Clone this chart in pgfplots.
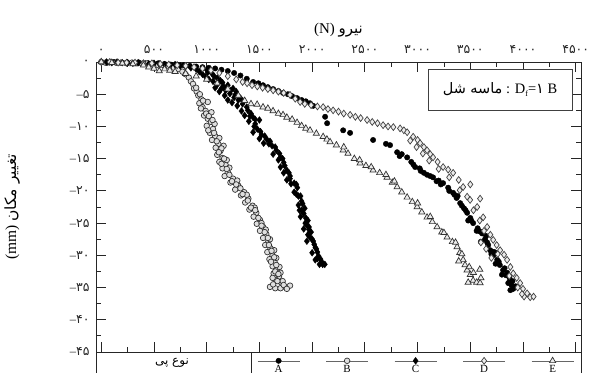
\documentclass[border=0pt]{standalone}
\usepackage{fontspec}
\setmainfont{Liberation Serif}
\newfontfamily\arabicfont[Script=Arabic]{DejaVu Sans}
\TeXXeTstate=1
\usepackage{pgfplots}
\pgfplotsset{compat=1.18}
\pgfplotsset{
  legL/.style={legend image code/.code={
      \draw[black!60,line width=0.5bp] (-21bp,0bp) -- (21bp,0bp);
      \draw[##1] plot coordinates {(0bp,0bp)};
      \node[font=\fontsize{11}{12}\selectfont,inner sep=0pt,anchor=north] at (0bp,-4bp) {#1};
  }},
}
\newcommand{\mn}{{\rmfamily –}}
\begin{document}
\begin{tikzpicture}
\begin{axis}[
  name=ax,
  scale only axis, width=485bp, height=290bp,
  xmin=-50, xmax=4550, ymin=-45, ymax=0,
  xtick={0,500,1000,1500,2000,2500,3000,3500,4000,4500},
  xticklabels={۰,۵۰۰,۱۰۰۰,۱۵۰۰,۲۰۰۰,۲۵۰۰,۳۰۰۰,۳۵۰۰,۴۰۰۰,۴۵۰۰},
  xticklabel pos=upper,
  ytick={-45,-40,-35,-30,-25,-20,-15,-10,-5,0},
  yticklabels={\mn۴۵,\mn۴۰,\mn۳۵,\mn۳۰,\mn۲۵,\mn۲۰,\mn۱۵,\mn۱۰,\mn۵,۰},
  minor x tick num=1, minor y tick num=1,
  tick align=inside,
  major tick length=10bp, minor tick length=5bp,
  axis line style={black!85,line width=1bp},
  every tick/.style={black!85,line width=0.8bp},
  ticklabel style={font=\arabicfont\fontsize{12.5}{14}\selectfont,text=black!85},
  xticklabel style={yshift=5bp},
  yticklabel style={xshift=-3bp},
  xlabel={(N) {\arabicfont\beginR نیرو\endR}},
  xlabel style={font=\fontsize{15}{17}\selectfont,yshift=1bp},
  ylabel={(mm) {\arabicfont\beginR تغییر مکان\endR}},
  ylabel style={font=\fontsize{15.5}{17}\selectfont,at={(axis description cs:-0.173,0.5)},anchor=center},
  legend style={draw=none,fill=none,inner sep=0pt,at={(0.66,0)},anchor=north,yshift=-5bp,
    legend columns=5,column sep=0pt,nodes={inner sep=0pt},
    /tikz/every even column/.append style={column sep=25bp}},
]
% A: filled circles
\addplot[only marks,mark=*,mark size=2.7bp,mark options={fill=black,draw=black},legL=A] coordinates {
(0,0)(60,-0.1)(120,0)(180,-0.1)(240,-0.1)(300,-0.2)(360,-0.1)(420,-0.2)(480,-0.3)(540,-0.2)
(600,-0.3)(660,-0.4)(720,-0.4)(780,-0.5)(840,-0.6)(900,-0.7)(960,-0.8)(1020,-0.9)(1080,-1.0)
(1140,-1.2)(1200,-1.4)(1260,-1.7)(1320,-2.1)(1380,-2.6)(1440,-3.1)(1490,-3.3)(1534,-3.6)
(1580,-3.9)(1630,-4.2)(1680,-4.5)(1724,-4.8)(1770,-5.0)(1810,-5.3)(1857,-5.6)(1900,-5.9)
(1940,-6.1)(1980,-6.4)(2010,-6.8)
(2123,-8.5)(2142,-9.5)(2294,-10.6)(2360,-11.0)(2578,-12.1)(2700,-12.7)(2739,-12.9)
(2806,-14.0)(2850,-14.3)(2901,-14.8)(2940,-15.5)(2977,-16.3)(3030,-16.9)(3090,-17.5)(3147,-17.9)
(3200,-18.4)(3242,-18.8)(3290,-19.5)(3337,-20.3)(3370,-21.1)(3404,-21.9)(3440,-22.7)(3470,-23.4)
(3500,-24.2)(3527,-25.0)(3570,-25.8)(3612,-26.6)(3640,-27.5)(3670,-28.4)(3688,-29.2)(3720,-30.0)
(3755,-30.7)(3780,-31.5)(3811,-32.3)(3840,-33.1)(3878,-33.9)(3890,-34.6)(3907,-35.2)
(3560,-26.2)(3650,-27.0)(3700,-29.8)(3740,-31.3)(3800,-33.0)(3860,-34.3)(3380,-20.8)(3300,-20.0)
(3480,-24.6)(3600,-27.9)(3730,-29.5)(3850,-32.7)(3930,-34.8)(3880,-35.4)(3020,-16.5)(3120,-17.7)(3180,-18.5)
(2830,-14.6)(2960,-15.9)(3060,-17.2)(3220,-19.0)(3350,-20.6)(3420,-22.3)(3455,-23.0)(3510,-24.6)
(3590,-26.3)(3660,-28.0)(3705,-29.4)(3770,-31.0)(3825,-32.0)(3870,-33.4)(3900,-34.0)
};
\addlegendentry{\mbox{}}
% B: open circles
\addplot[only marks,mark=*,mark size=2.8bp,mark options={fill=gray!25,draw=black!80,line width=0.7bp},legL=B] coordinates {
(0,0)(40,-0.1)(90,0)(140,-0.1)(190,-0.1)(240,-0.2)(290,-0.1)(340,-0.2)(390,-0.3)(440,-0.2)
(490,-0.4)(540,-0.5)(590,-0.5)(640,-0.7)(690,-0.9)(730,-1.1)(770,-1.5)(800,-1.9)(830,-2.4)
(850,-3.0)(870,-3.4)(880,-4.1)(905,-4.6)(920,-5.2)(950,-5.8)(930,-6.4)(960,-7.0)(990,-7.6)
(975,-8.3)(1010,-8.8)(1040,-9.3)(1000,-9.9)(1060,-10.4)(1030,-11.0)(1080,-11.5)(1050,-12.1)
(1110,-12.7)(1085,-13.3)(1130,-13.8)(1100,-14.4)(1150,-14.9)(1120,-15.5)(1180,-16.0)(1150,-16.5)
(1200,-17.1)(1170,-17.7)(1250,-18.1)(1225,-18.7)(1300,-19.2)(1270,-19.8)(1355,-20.2)(1325,-20.7)
(1395,-21.2)(1365,-21.8)(1435,-22.3)(1405,-22.9)(1470,-23.4)(1445,-24.0)(1505,-24.5)(1475,-25.1)
(1535,-25.6)(1505,-26.2)(1565,-26.7)(1535,-27.3)(1585,-27.8)(1555,-28.4)(1605,-28.9)(1575,-29.5)
(1625,-30.0)(1595,-30.6)(1645,-31.1)(1625,-31.7)(1665,-32.2)(1635,-32.8)(1685,-33.3)(1655,-33.8)
(1705,-34.2)(1600,-34.9)(1650,-35.1)(1700,-35.1)(1750,-35.0)(1790,-34.7)(1720,-34.0)
(1010,-6.2)(1045,-7.8)(1075,-9.6)(1120,-11.8)(1160,-13.0)(1190,-15.2)(1215,-16.4)(1290,-18.4)
(1380,-20.6)(1455,-22.6)(1520,-25.0)(1560,-26.0)(1600,-27.5)(1640,-29.2)(1660,-30.4)(1690,-31.8)
(1700,-32.7)(1625,-33.5)
(900,-4.0)(935,-5.0)(965,-6.0)(945,-7.2)(995,-8.0)(1020,-8.4)(1055,-9.0)(1015,-10.6)(1070,-11.0)
(1095,-12.3)(1140,-13.4)(1115,-14.0)(1165,-15.0)(1140,-15.8)(1190,-16.6)(1215,-17.5)(1240,-18.5)
(1280,-19.0)(1320,-19.6)(1340,-20.5)(1390,-21.5)(1420,-22.6)(1460,-23.0)(1490,-24.2)(1520,-25.4)
(1550,-26.4)(1580,-27.3)(1590,-28.4)(1615,-29.3)(1640,-30.3)(1610,-31.0)(1660,-31.5)(1650,-32.5)
(1680,-32.9)(1670,-34.0)(1630,-34.5)(1730,-34.6)(1760,-35.2)
};
\addlegendentry{\mbox{}}
% C: filled diamonds
\addplot[only marks,mark=diamond*,mark size=3.4bp,mark options={fill=black,draw=black},legL=C] coordinates {
(0,0)(50,0)(100,-0.1)(150,0)(200,-0.1)(250,-0.1)(300,-0.2)(350,-0.1)(400,-0.2)(450,-0.3)
(500,-0.2)(550,-0.3)(600,-0.4)(650,-0.5)(700,-0.4)(750,-0.6)(800,-0.7)(850,-0.9)(900,-1.1)
(930,-1.5)(960,-1.9)(990,-2.3)(1020,-2.7)(1060,-3.0)(1100,-3.5)(1080,-4.0)(1140,-4.1)(1180,-4.4)
(1220,-4.9)(1170,-5.2)(1260,-5.5)(1300,-5.9)(1240,-6.3)(1340,-6.5)(1380,-7.0)(1330,-7.6)
(1420,-8.0)(1440,-8.6)(1400,-9.2)(1460,-9.6)(1480,-10.4)(1440,-10.9)(1520,-11.3)(1570,-12.0)
(1540,-12.6)(1620,-13.0)(1660,-13.7)(1630,-14.3)(1700,-14.8)(1730,-15.6)(1700,-16.3)(1760,-16.8)
(1790,-17.7)(1760,-18.3)(1830,-18.8)(1860,-19.5)(1830,-20.2)(1890,-20.8)(1900,-21.6)(1870,-22.2)
(1930,-22.7)(1920,-23.5)(1890,-24.0)(1960,-24.6)(1950,-25.3)(1920,-25.9)(1990,-26.4)(1980,-27.2)
(1950,-27.8)(2020,-28.3)(2040,-29.0)(2000,-29.6)(2060,-30.1)(2030,-30.7)(2070,-31.4)(2100,-31.4)
(1000,-1.2)(1050,-1.8)(1100,-2.5)(1150,-3.2)(1200,-3.6)(1250,-4.1)(1280,-4.6)(1120,-4.6)
(1200,-5.9)(1290,-6.8)(1360,-8.3)(1500,-9.0)(1500,-11.9)(1600,-12.3)(1680,-15.2)(1730,-17.2)
(1800,-18.9)(1850,-20.5)(1880,-23.0)(1970,-26.0)(2000,-27.5)(2050,-30.5)(2090,-31.0)
(1010,-1.6)(1070,-2.2)(1130,-2.9)(1160,-3.8)(1230,-4.4)(1270,-5.1)(1320,-5.6)(1350,-6.1)(1390,-7.5)
(1410,-8.4)(1460,-8.9)(1450,-10.0)(1510,-10.8)(1550,-11.5)(1590,-12.7)(1650,-13.2)(1690,-14.2)
(1720,-15.0)(1740,-16.1)(1780,-17.2)(1790,-18.1)(1850,-19.0)(1870,-20.8)(1910,-22.0)(1900,-23.0)
(1940,-24.2)(1935,-25.0)(1970,-25.6)(1960,-26.8)(2010,-27.8)(2030,-28.8)(2050,-29.5)(2080,-30.6)(2120,-31.4)
};
\addlegendentry{\mbox{}}
% D: open diamonds
\addplot[only marks,mark=diamond*,mark size=3.4bp,mark options={fill=gray!15,draw=black!75,line width=0.7bp},legL=D] coordinates {
(0,0)(80,0)(160,-0.1)(240,-0.1)(320,-0.1)(400,-0.2)(480,-0.2)(560,-0.3)(640,-0.4)(720,-0.5)
(800,-0.6)(880,-0.8)(960,-1.0)(1040,-1.3)(1120,-1.7)(1200,-2.2)(1280,-2.7)(1340,-3.1)(1383,-3.3)
(1430,-3.6)(1480,-3.8)(1530,-4.0)(1580,-4.2)(1630,-4.4)(1680,-4.6)(1730,-4.8)(1790,-5.1)
(1840,-5.7)(1886,-6.2)(1930,-6.5)(1990,-6.7)(2050,-6.9)(2104,-7.0)(2150,-7.3)(2199,-7.5)
(2250,-7.7)(2300,-8.0)(2360,-8.2)(2410,-8.5)(2460,-8.7)(2521,-9.0)(2570,-9.3)(2620,-9.5)
(2673,-9.8)(2720,-10.0)(2770,-10.1)(2834,-10.3)(2870,-10.6)(2901,-10.9)(2958,-11.6)(2930,-12.2)
(3000,-12.1)(3024,-12.6)(2990,-13.2)(3060,-13.2)(3090,-13.7)(3050,-14.2)(3120,-14.3)(3147,-14.8)
(3110,-15.3)(3190,-15.5)(3242,-16.3)(3200,-16.6)(3290,-16.7)(3337,-17.2)(3300,-17.9)(3390,-18.3)
(3432,-19.4)(3400,-19.9)(3498,-21.4)(3470,-20.9)(3593,-21.2)(3500,-19.0)(3565,-22.5)(3530,-23.0)
(3622,-24.1)(3590,-24.6)(3660,-25.6)(3630,-26.2)(3690,-26.8)(3717,-27.6)(3750,-28.4)(3783,-29.2)
(3760,-29.8)(3820,-29.9)(3849,-30.7)(3880,-31.8)(3907,-32.8)(3870,-33.2)(3940,-33.5)(3973,-34.3)
(3950,-35.0)(4000,-35.2)(4039,-35.9)(4068,-36.5)(4010,-36.4)(3990,-36.0)(4100,-36.4)
(3650,-29.0)(3700,-30.4)(3600,-28.0)
};
\addlegendentry{\mbox{}}
% E: open triangles
\addplot[only marks,mark=triangle*,mark size=3.6bp,mark options={fill=gray!15,draw=black!80,line width=0.7bp},legL=E] coordinates {
(0,0)(100,-0.1)(200,-0.2)(300,-0.3)(400,-0.5)(450,-0.8)(500,-1.0)(550,-1.4)(600,-1.1)(650,-1.3)
(700,-1.5)(800,-1.8)(900,-2.2)(1000,-2.7)(1100,-3.3)(1200,-4.2)(1300,-5.2)(1360,-6.0)(1420,-6.5)
(1478,-6.6)(1534,-7.0)(1580,-7.2)(1629,-7.6)(1680,-8.0)(1724,-8.2)(1760,-8.6)(1810,-8.9)
(1857,-9.4)(1900,-9.9)(1940,-10.3)(1980,-10.6)(2040,-11.1)(2104,-11.6)(2140,-12.0)(2170,-12.4)
(2230,-12.9)(2294,-13.7)(2340,-14.2)(2400,-15.0)(2455,-15.7)(2510,-16.1)(2578,-16.8)(2640,-17.2)
(2711,-17.9)(2760,-18.7)(2806,-19.4)(2850,-20.2)(2901,-21.0)(2950,-21.7)(2996,-22.5)(3040,-23.3)
(3090,-24.1)(3140,-24.8)(3185,-25.6)(3230,-26.4)(3280,-27.2)(3330,-27.9)(3375,-28.7)(3400,-29.6)
(3432,-30.7)(3450,-31.5)(3470,-32.3)(3500,-33.0)(3527,-33.9)(3560,-34.2)(3593,-34.3)(3480,-34.2)
(2300,-13.2)(2450,-15.2)(2560,-16.3)(2700,-17.5)(2780,-18.5)(3000,-21.9)(3120,-24.0)(3250,-26.5)
(3360,-28.0)(3420,-29.8)(3490,-31.8)(3530,-32.7)(3600,-33.5)(3590,-32.2)(3390,-30.9)
};
\addlegendentry{\mbox{}}
\node[draw=black!75,line width=0.8bp,fill=white,minimum width=144bp,minimum height=41bp,
  font=\fontsize{14.5}{16}\selectfont] at (rel axis cs:0.833,0.905)
  {{\arabicfont\beginR ماسه شل\endR} : D\raisebox{-0.4ex}{\footnotesize f}={\arabicfont ۱} B};
\end{axis}
\draw[black!85,line width=1bp] (ax.south west) -- ++(0,-30bp);
\draw[black!85,line width=1bp] ([xshift=155bp]ax.south west) -- ++(0,-30bp);
\draw[black!85,line width=1bp] (ax.south east) -- ++(0,-30bp);
\node[anchor=north,font=\arabicfont\fontsize{12}{14}\selectfont] at ([xshift=76bp,yshift=-3bp]ax.south west) {\beginR نوع پی\endR};
\pgfresetboundingbox
\path[use as bounding box] ([shift={(-96bp,-20bp)}]ax.south west) rectangle ([shift={(13bp,62bp)}]ax.north east);
\end{tikzpicture}
\end{document}
